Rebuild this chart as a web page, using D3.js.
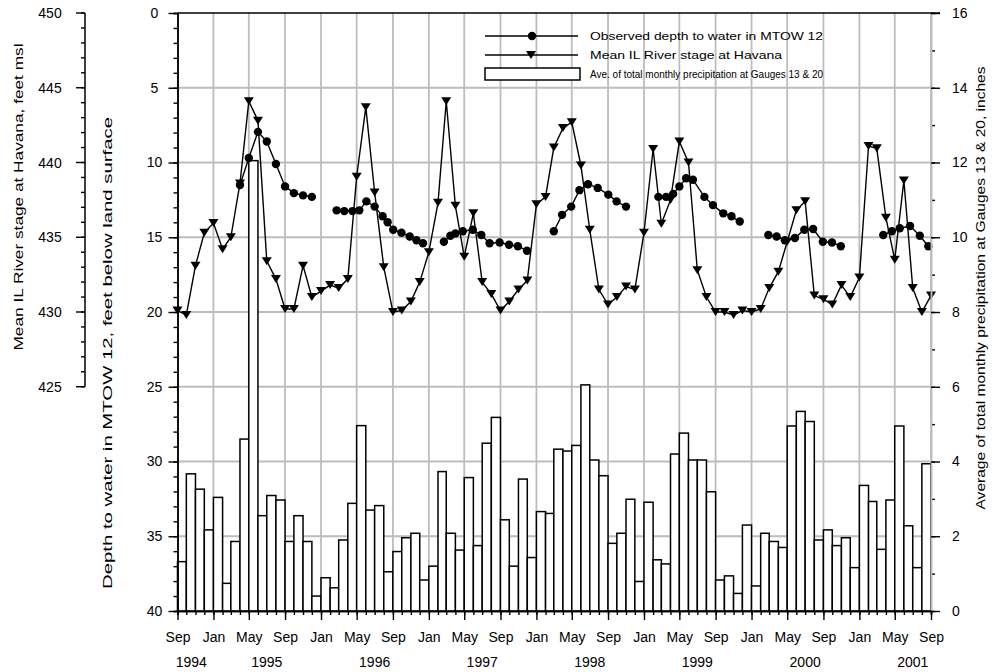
<!DOCTYPE html>
<html>
<head>
<meta charset="utf-8">
<script src="https://cdn.jsdelivr.net/npm/d3@7"></script>
<style>
  body { margin: 0; background: #fff; }
  text { font-family: "Liberation Sans", Arial, sans-serif; fill: #000; }
</style>
</head>
<body>
<svg id="chart" width="992" height="672"></svg>
<script>
// monthly mean IL River stage at Havana, feet msl, Sep 1994 .. Sep 2001
var stageFt = [
  430.1, 429.8, 433.1, 435.3, 435.95, 434.2, 435.0, 438.6, 444.1, 442.8, 433.4, 432.2,
  430.2, 430.2, 433.1, 431.0, 431.4, 431.8, 431.6, 432.2, 439.05, 443.7, 438.0, 433.0,
  430.0, 430.1, 430.7, 432.0, 434.0, 437.3, 444.1, 437.1, 433.7, 436.6, 432.0, 431.2,
  430.1, 430.7, 431.5, 432.1, 437.2, 437.7, 441.0, 442.3, 442.7, 439.8, 435.5, 431.5,
  430.5, 431.0, 431.7, 431.5, 435.3, 440.9, 435.9, 437.5, 441.4, 440.0, 432.8, 431.0,
  430.0, 430.0, 429.8, 430.1, 430.0, 430.2, 431.6, 432.7, 434.7, 436.8, 437.4, 431.1,
  430.85, 430.5, 431.8, 431.0, 432.3, 441.1, 440.95, 436.3, 433.5, 438.8, 431.6, 430.0,
  431.1
];

// average monthly precipitation at gauges 13 & 20, inches, Sep 1994 .. Aug 2001
var precipIn = [
  1.32, 3.67, 3.26, 2.17, 3.04, 0.74, 1.86, 4.60, 12.05, 2.55, 3.09, 2.97,
  1.86, 2.55, 1.86, 0.40, 0.89, 0.62, 1.90, 2.88, 4.96, 2.70, 2.82, 1.05,
  1.59, 1.96, 2.08, 0.83, 1.20, 3.73, 2.08, 1.63, 3.57, 1.75, 4.49, 5.18,
  2.44, 1.20, 3.53, 1.43, 2.66, 2.61, 4.33, 4.28, 4.43, 6.05, 4.04, 3.62,
  1.81, 2.08, 2.99, 0.79, 2.91, 1.37, 1.26, 4.20, 4.76, 4.04, 4.04, 3.19,
  0.83, 0.94, 0.47, 2.30, 0.67, 2.08, 1.86, 1.70, 4.95, 5.34, 5.07, 1.90,
  2.17, 1.75, 1.96, 1.16, 3.36, 2.93, 1.65, 2.97, 4.95, 2.28, 1.16, 3.94
];

// observed depth to water in MTOW 12 (feet below land surface), null = no record
var obsDates = [
  '1995-04-01', '1995-05-01', '1995-06-01', '1995-07-01', '1995-08-01', '1995-09-01', '1995-10-01', '1995-11-01', '1995-12-01',
  '1996-01-20',
  '1996-02-23', '1996-03-20', '1996-04-17', '1996-05-10', '1996-06-03', '1996-07-01', '1996-07-28', '1996-08-14', '1996-09-02', '1996-09-30', '1996-10-28', '1996-11-20', '1996-12-12',
  '1997-01-20',
  '1997-02-21', '1997-03-15', '1997-04-01', '1997-04-26', '1997-05-30', '1997-06-28', '1997-07-26', '1997-08-29', '1997-09-30', '1997-10-30', '1997-11-30',
  '1998-01-20',
  '1998-03-01', '1998-03-29', '1998-04-29', '1998-05-27', '1998-06-25', '1998-07-28', '1998-09-02', '1998-09-30', '1998-11-01',
  '1999-01-20',
  '1999-02-19', '1999-03-17', '1999-04-10', '1999-05-01', '1999-05-24', '1999-06-16', '1999-07-25', '1999-08-23', '1999-09-27', '1999-10-25', '1999-11-22',
  '2000-01-20',
  '2000-02-27', '2000-03-26', '2000-04-23', '2000-05-27', '2000-06-28', '2000-07-28', '2000-08-30', '2000-09-30', '2000-10-30',
  '2001-01-20',
  '2001-03-23', '2001-04-21', '2001-05-18', '2001-06-22', '2001-07-25', '2001-08-23'
];
var obsDepth = [
  11.5, 9.7, 7.95, 8.6, 10.1, 11.6, 12.05, 12.2, 12.3,
  null,
  13.2, 13.25, 13.25, 13.2, 12.6, 12.95, 13.6, 14.0, 14.5, 14.7, 14.95, 15.2, 15.4,
  null,
  15.3, 14.9, 14.75, 14.6, 14.5, 14.85, 15.4, 15.35, 15.5, 15.6, 15.9,
  null,
  14.6, 13.5, 12.95, 11.85, 11.45, 11.7, 12.15, 12.6, 12.95,
  null,
  12.3, 12.3, 12.1, 11.6, 11.05, 11.15, 12.3, 12.85, 13.4, 13.6, 13.95,
  null,
  14.85, 14.95, 15.2, 15.05, 14.5, 14.45, 15.3, 15.35, 15.6,
  null,
  14.85, 14.6, 14.4, 14.25, 14.9, 15.6
];

var yearLabels = ['1994', '1995', '1996', '1997', '1998', '1999', '2000', '2001'];
var yearDates = ['1994-10-18', '1995-07-01', '1996-07-01', '1997-07-01', '1998-07-01', '1999-07-01', '2000-07-01', '2001-07-01'];

var legendLabels = [
  'Observed depth to water in MTOW 12',
  'Mean IL River stage at Havana',
  'Ave. of total monthly precipitation at Gauges 13 & 20'
];

var parse = d3.timeParse('%Y-%m-%d');
var start = new Date(1994, 8, 1), end = new Date(2001, 8, 1);
var months = d3.timeMonth.range(start, d3.timeMonth.offset(end, 1));

var svg = d3.select('#chart');

var x = d3.scaleTime().domain([start, end]).range([177.5, 931]);
var yDepth = d3.scaleLinear().domain([0, 40]).range([13, 611]);
var yStage = d3.scaleLinear().domain([450, 410]).range([13, 611]);
var yRain = d3.scaleLinear().domain([0, 16]).range([611, 13]);

var majorMonths = months.filter(function (d, i) { return i % 4 === 0; });

// grid
var grid = svg.append('g').attr('class', 'grid');
grid.selectAll('line.v')
  .data(majorMonths.slice(1))
  .enter().append('line')
    .attr('class', 'v')
    .attr('x1', d => x(d)).attr('x2', d => x(d))
    .attr('y1', 13).attr('y2', 611)
    .style('stroke', '#bdbdbd').style('stroke-width', 1.8);
grid.selectAll('line.h')
  .data(d3.range(5, 40, 5))
  .enter().append('line')
    .attr('class', 'h')
    .attr('x1', 177.5).attr('x2', 931)
    .attr('y1', d => yDepth(d)).attr('y2', d => yDepth(d))
    .style('stroke', '#bdbdbd').style('stroke-width', 1.8);

// precipitation bars
svg.append('g').selectAll('rect')
  .data(precipIn)
  .enter().append('rect')
    .attr('x', (d, i) => x(months[i]))
    .attr('width', (d, i) => x(months[i + 1]) - x(months[i]))
    .attr('y', d => yRain(d))
    .attr('height', d => yRain(0) - yRain(d))
    .attr('fill', '#fff')
    .attr('stroke', '#000')
    .attr('stroke-width', 1.5);

// river stage line + triangles
var stageLine = d3.line()
  .x((d, i) => x(months[i]))
  .y(d => yStage(d));
svg.append('path')
  .datum(stageFt)
  .attr('d', stageLine)
  .attr('fill', 'none').attr('stroke', '#000').attr('stroke-width', 1.4);

var tri = 'M-5,-4L5,-4L0,4Z';
svg.append('g').selectAll('path')
  .data(stageFt)
  .enter().append('path')
    .attr('d', tri)
    .attr('transform', (d, i) => 'translate(' + x(months[i]) + ',' + yStage(d) + ')')
    .attr('fill', '#000');

// observed depth line + dots
var obs = obsDates.map((d, i) => ({ date: parse(d), depth: obsDepth[i] }));
var obsLine = d3.line()
  .defined(d => d.depth !== null)
  .x(d => x(d.date))
  .y(d => yDepth(d.depth));
svg.append('path')
  .datum(obs)
  .attr('d', obsLine)
  .attr('fill', 'none').attr('stroke', '#000').attr('stroke-width', 1.4);
svg.append('g').selectAll('circle')
  .data(obs.filter(d => d.depth !== null))
  .enter().append('circle')
    .attr('cx', d => x(d.date))
    .attr('cy', d => yDepth(d.depth))
    .attr('r', 4.2)
    .attr('fill', '#000');

// axes
function styleAxis(g) {
  g.selectAll('path.domain').attr('stroke', '#000').attr('stroke-width', 1.5);
  g.selectAll('.tick line').attr('stroke', '#000').attr('stroke-width', 1.4);
  g.selectAll('.tick text').attr('font-size', 14).attr('font-family', '"Liberation Sans", Arial, sans-serif');
}

// depth axis (left inner)
var gDepthMinor = svg.append('g').attr('transform', 'translate(177.5,0)')
  .call(d3.axisLeft(yDepth).tickValues(d3.range(0, 41, 1)).tickSize(4).tickFormat(''));
styleAxis(gDepthMinor);
var gDepth = svg.append('g').attr('transform', 'translate(177.5,0)')
  .call(d3.axisLeft(yDepth).tickValues(d3.range(0, 41, 5)).tickSize(9).tickSizeOuter(0));
styleAxis(gDepth);
gDepth.selectAll('.tick text').attr('text-anchor', 'middle').attr('x', -23);

// stage axis (far left), drawn 450..425
var gStage = svg.append('g').attr('transform', 'translate(85,0)');
gStage.append('line')
  .attr('x1', 0).attr('x2', 0)
  .attr('y1', yStage(450)).attr('y2', yStage(425))
  .attr('stroke', '#000').attr('stroke-width', 1.5);
gStage.selectAll('line.minor')
  .data(d3.range(425, 451, 1))
  .enter().append('line')
    .attr('class', 'minor')
    .attr('x1', -4).attr('x2', 0)
    .attr('y1', d => yStage(d)).attr('y2', d => yStage(d))
    .attr('stroke', '#000').attr('stroke-width', 1.4);
gStage.selectAll('line.major')
  .data(d3.range(425, 451, 5))
  .enter().append('line')
    .attr('class', 'major')
    .attr('x1', -9).attr('x2', 0)
    .attr('y1', d => yStage(d)).attr('y2', d => yStage(d))
    .attr('stroke', '#000').attr('stroke-width', 1.4);
gStage.selectAll('text')
  .data(d3.range(425, 451, 5))
  .enter().append('text')
    .attr('x', -35).attr('y', d => yStage(d) + 5)
    .attr('text-anchor', 'middle').attr('font-size', 14)
    .text(d => d);

// precipitation axis (right)
var gRainMinor = svg.append('g').attr('transform', 'translate(931,0)')
  .call(d3.axisRight(yRain).tickValues(d3.range(0, 17, 1)).tickSize(4).tickFormat(''));
styleAxis(gRainMinor);
var gRain = svg.append('g').attr('transform', 'translate(931,0)')
  .call(d3.axisRight(yRain).tickValues(d3.range(0, 17, 2)).tickSize(9).tickSizeOuter(0));
styleAxis(gRain);
gRainMinor.selectAll('path.domain').attr('stroke', '#bdbdbd');
gRain.selectAll('path.domain').attr('stroke', '#bdbdbd');
gRain.selectAll('.tick text').attr('x', 21);

// time axis (bottom)
var gTimeMinor = svg.append('g').attr('transform', 'translate(0,611)')
  .call(d3.axisBottom(x).tickValues(months).tickSize(4).tickFormat(''));
styleAxis(gTimeMinor);
var gTime = svg.append('g').attr('transform', 'translate(0,611)')
  .call(d3.axisBottom(x).tickValues(majorMonths).tickSize(9).tickSizeOuter(0)
    .tickFormat(d3.timeFormat('%b')));
styleAxis(gTime);
gTime.selectAll('.tick text').attr('y', 21);

svg.append('g').selectAll('text')
  .data(yearLabels)
  .enter().append('text')
    .attr('x', (d, i) => x(parse(yearDates[i])))
    .attr('y', 667)
    .attr('text-anchor', 'middle').attr('font-size', 14)
    .text(d => d);

// top frame
svg.append('line')
  .attr('x1', 177.5).attr('x2', 940).attr('y1', 13).attr('y2', 13)
  .attr('stroke', '#000').attr('stroke-width', 1.5);

// axis titles
function vTitle(cx, cy, len, label) {
  svg.append('text')
    .attr('transform', 'translate(' + cx + ',' + cy + ') rotate(-90)')
    .attr('text-anchor', 'middle')
    .attr('font-size', 13)
    .attr('textLength', len)
    .attr('lengthAdjust', 'spacingAndGlyphs')
    .text(label);
}
vTitle(23, 197, 307, 'Mean IL River stage at Havana, feet msl');
vTitle(112, 353, 472, 'Depth to water in MTOW 12, feet below land surface');
vTitle(985, 288, 443, 'Average of total monthly precipitation at Gauges 13 & 20, inches');

// legend
var lg = svg.append('g');
lg.append('line').attr('x1', 485).attr('x2', 578).attr('y1', 36).attr('y2', 36)
  .attr('stroke', '#000').attr('stroke-width', 1.4);
lg.append('circle').attr('cx', 532).attr('cy', 36).attr('r', 4.2).attr('fill', '#000');
lg.append('line').attr('x1', 485).attr('x2', 578).attr('y1', 55).attr('y2', 55)
  .attr('stroke', '#000').attr('stroke-width', 1.4);
lg.append('path').attr('d', tri).attr('transform', 'translate(531,55)').attr('fill', '#000');
lg.append('rect').attr('x', 485).attr('y', 68).attr('width', 95).attr('height', 12)
  .attr('fill', '#fff').attr('stroke', '#000').attr('stroke-width', 1.5);
var legendY = [40, 59, 78];
var legendLen = [233, 192, 233];
lg.selectAll('text')
  .data(legendLabels)
  .enter().append('text')
    .attr('x', 590).attr('y', (d, i) => legendY[i])
    .attr('font-size', 11.5)
    .attr('textLength', (d, i) => legendLen[i])
    .attr('lengthAdjust', 'spacingAndGlyphs')
    .text(d => d);
</script>
</body>
</html>
